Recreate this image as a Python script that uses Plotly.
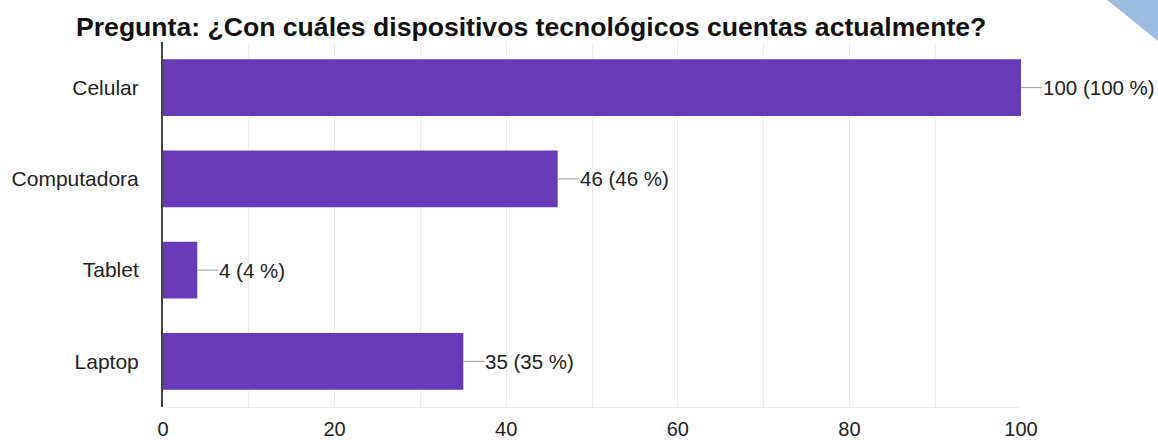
import plotly.graph_objects as go

categorias = ["Celular", "Computadora", "Tablet", "Laptop"]
respuestas = [100, 46, 4, 35]
porcentajes = [100, 46, 4, 35]
titulo = "Pregunta: ¿Con cuáles dispositivos tecnológicos cuentas actualmente?"

fig = go.Figure()
fig.add_trace(go.Bar(
    x=respuestas, y=categorias, orientation="h",
    marker=dict(color="#673ab7", line=dict(width=0)),
    hoverinfo="skip",
))

# etiquetas con linea guia
annotations = []
for cat, n, p in zip(categorias, respuestas, porcentajes):
    annotations.append(dict(
        x=n, y=cat, xref="x", yref="y",
        text=f"{n} ({p} %)", showarrow=True, arrowhead=0, arrowwidth=1,
        arrowcolor="#9e9e9e", ax=21, ay=0, xanchor="left",
        font=dict(family="Arial", size=20.5, color="#222"),
        borderpad=0, standoff=0,
    ))

fig.update_layout(
    title=dict(text=f"<b>{titulo}</b>", xref="container", yref="container",
               x=76 / 1158, y=1 - 27 / 440, xanchor="left", yanchor="middle",
               font=dict(family="Arial", size=26.6, color="#111")),
    annotations=annotations,
    width=1158, height=440,
    margin=dict(l=163, r=137, t=42, b=33),
    plot_bgcolor="white", paper_bgcolor="white",
    bargap=0.38, showlegend=False,
    font=dict(family="Arial", size=20, color="#222"),
    # triangulo decorativo de la esquina
    shapes=[dict(type="path", xref="paper", yref="paper",
                 path="M 1.100 1.116 L 1.161 1.116 L 1.161 1.0 Z",
                 fillcolor="#9dbde0", line=dict(width=0), layer="above")],
)
fig.update_xaxes(range=[0, 100], dtick=20, showgrid=True, gridcolor="#ebebeb",
                 minor=dict(dtick=10, showgrid=True, gridcolor="#ebebeb"),
                 zeroline=False, showline=True, linecolor="#ebebeb",
                 ticklabelstandoff=4, automargin=False, fixedrange=True)
fig.update_yaxes(autorange="reversed", showline=True, linecolor="#444",
                 linewidth=2, ticklabelstandoff=18, automargin=False,
                 tickfont=dict(size=21), fixedrange=True)

fig.write_html("out.html", config={"displayModeBar": False},
               post_script="document.body.style.margin='0';")
